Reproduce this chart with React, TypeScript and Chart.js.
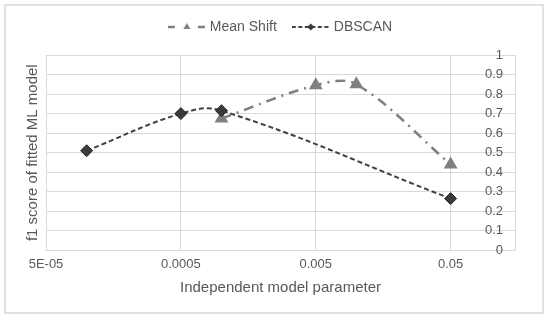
import React, { useEffect, useRef } from 'react';
import { Chart, registerables } from 'chart.js';

Chart.register(...registerables);

const seriesNames = ['Mean Shift', 'DBSCAN'];
const meanShiftX = [0.001, 0.005, 0.01, 0.05];
const meanShiftY = [0.675, 0.845, 0.85, 0.44];
const dbscanX = [0.0001, 0.0005, 0.001, 0.05];
const dbscanY = [0.51, 0.7, 0.715, 0.265];
const xTickValues = [0.00005, 0.0005, 0.005, 0.05];
const xTickLabels = ['5E-05', '0.0005', '0.005', '0.05'];
const yTickLabels = ['0', '0.1', '0.2', '0.3', '0.4', '0.5', '0.6', '0.7', '0.8', '0.9', '1'];
const xMin = 0.00005;
const xMax = 0.15;
const yMin = 0;
const yMax = 1;
const yStep = 0.1;
const xTitle = 'Independent model parameter';
const yTitle = 'f1 score of fitted ML model';

const FONT = '"Liberation Sans", Arial, sans-serif';
const TEXT = '#595959';
const GRID = '#d9d9d9';
const MS_COLOR = '#808080';
const DB_LINE = '#404040';
const DB_FILL = '#3a3a3a';

function legendImage(kind: 'ms' | 'db'): HTMLCanvasElement {
  const c = document.createElement('canvas');
  c.width = 38;
  c.height = 14;
  const g = c.getContext('2d')!;
  const cy = 7;
  if (kind === 'ms') {
    g.strokeStyle = MS_COLOR;
    g.lineWidth = 2.5;
    g.beginPath();
    g.moveTo(0, cy);
    g.lineTo(7, cy);
    g.moveTo(30, cy);
    g.lineTo(37, cy);
    g.stroke();
    g.fillStyle = MS_COLOR;
    const r = 4;
    g.beginPath();
    g.moveTo(19, cy - r);
    g.lineTo(19 + r * 0.866, cy + r / 2);
    g.lineTo(19 - r * 0.866, cy + r / 2);
    g.closePath();
    g.fill();
  } else {
    g.strokeStyle = DB_LINE;
    g.lineWidth = 2;
    g.setLineDash([4, 2.5]);
    g.beginPath();
    g.moveTo(0, cy);
    g.lineTo(37, cy);
    g.stroke();
    g.setLineDash([]);
    g.fillStyle = DB_FILL;
    const r = 3.5;
    g.beginPath();
    g.moveTo(19, cy - r);
    g.lineTo(19 + r, cy);
    g.lineTo(19, cy + r);
    g.lineTo(19 - r, cy);
    g.closePath();
    g.fill();
  }
  return c;
}

const legendSpacer = {
  id: 'legendSpacer',
  beforeLayout(chart: any) {
    const lg = chart.legend;
    if (!lg || lg.__patched) return;
    const orig = lg.fit.bind(lg);
    lg.fit = function () {
      orig();
      this.height += 11;
    };
    lg.__patched = true;
  },
};

export default function App() {
  const ref = useRef<HTMLCanvasElement | null>(null);

  useEffect(() => {
    if (!ref.current) return;
    const imgs = [legendImage('ms'), legendImage('db')];
    const chart = new Chart(ref.current, {
      type: 'scatter',
      data: {
        datasets: [
          {
            label: seriesNames[0],
            data: meanShiftX.map((x, i) => ({ x, y: meanShiftY[i] })),
            showLine: true,
            tension: 0.35,
            borderColor: MS_COLOR,
            borderWidth: 2.5,
            borderDash: [10, 6, 2, 6],
            pointStyle: 'triangle',
            pointRadius: 8,
            pointBackgroundColor: MS_COLOR,
            pointBorderColor: MS_COLOR,
            pointBorderWidth: 0,
            order: 1,
          },
          {
            label: seriesNames[1],
            data: dbscanX.map((x, i) => ({ x, y: dbscanY[i] })),
            showLine: true,
            tension: 0.4,
            borderColor: DB_LINE,
            borderWidth: 2,
            borderDash: [5, 3],
            pointStyle: 'rectRot',
            pointRadius: 6,
            pointBackgroundColor: DB_FILL,
            pointBorderColor: '#262626',
            pointBorderWidth: 1,
            order: 0,
          },
        ],
      },
      options: {
        responsive: false,
        animation: false,
        layout: { padding: { top: 2, left: 24, right: 11, bottom: 19 } },
        font: { family: FONT },
        plugins: {
          tooltip: { enabled: false },
          legend: {
            display: true,
            position: 'top',
            labels: {
              usePointStyle: true,
              pointStyleWidth: 32,
              padding: 18,
              color: TEXT,
              font: { family: FONT, size: 14 },
              sort: (a: any, b: any) => a.datasetIndex - b.datasetIndex,
              generateLabels: (ch: any) => {
                const items = (Chart.defaults.plugins.legend.labels as any).generateLabels(ch);
                items.forEach((it: any) => {
                  it.pointStyle = imgs[it.datasetIndex];
                });
                return items;
              },
            },
          },
        },
        scales: {
          x: {
            type: 'logarithmic',
            min: xMin,
            max: xMax,
            afterBuildTicks: (axis: any) => {
              axis.ticks = xTickValues.map((v) => ({ value: v }));
            },
            ticks: {
              color: TEXT,
              font: { family: FONT, size: 13 },
              padding: 6,
              maxRotation: 0,
              autoSkip: false,
              callback: (_v: any, i: number) => xTickLabels[i],
            },
            grid: { color: GRID, lineWidth: 1, drawTicks: false },
            border: { display: true, color: GRID },
            title: {
              display: true,
              text: xTitle,
              color: TEXT,
              font: { family: FONT, size: 15 },
              padding: { top: 1, bottom: 4 },
            },
          },
          y: {
            type: 'linear',
            position: 'right',
            min: yMin,
            max: yMax,
            afterFit: (axis: any) => {
              axis.width = 24;
            },
            ticks: {
              stepSize: yStep,
              mirror: true,
              padding: -12,
              color: TEXT,
              font: { family: FONT, size: 13 },
              callback: (_v: any, i: number) => yTickLabels[i],
            },
            grid: { color: GRID, lineWidth: 1, drawTicks: false },
            border: { display: true, color: GRID },
          },
          yl: {
            type: 'linear',
            position: 'left',
            min: yMin,
            max: yMax,
            ticks: { display: false },
            grid: { display: false, drawTicks: false },
            border: { display: false },
            title: {
              display: true,
              text: yTitle,
              color: TEXT,
              font: { family: FONT, size: 15 },
              padding: { top: 0, bottom: 4 },
            },
          },
        },
      } as any,
      plugins: [legendSpacer],
    });
    return () => chart.destroy();
  }, []);

  return (
    <div style={{ position: 'absolute', left: 0, top: 0, width: 550, height: 320, background: '#fff' }}>
      <div
        style={{
          position: 'absolute',
          left: 4,
          top: 4,
          width: 540,
          height: 310,
          boxSizing: 'border-box',
          border: '2px solid #e2e2e2',
        }}
      />
      <canvas ref={ref} width={550} height={320} style={{ position: 'absolute', left: 0, top: 0 }} />
    </div>
  );
}
